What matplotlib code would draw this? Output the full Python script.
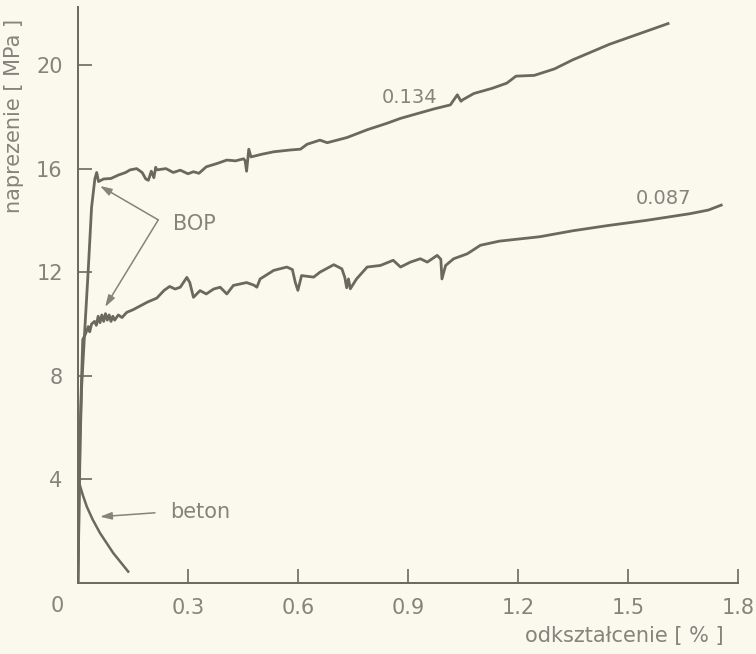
import matplotlib.pyplot as plt

# strain [%] / stress [MPa] readings for the two BOP specimens and plain concrete
bop134_strain = [0, 0.003, 0.006, 0.010, 0.019, 0.028, 0.037, 0.046, 0.051, 0.056,
                 0.070, 0.090, 0.110, 0.130, 0.142, 0.160, 0.175, 0.185, 0.192, 0.200,
                 0.207, 0.212, 0.215, 0.240, 0.260, 0.279, 0.300, 0.315, 0.330, 0.350,
                 0.380, 0.406, 0.430, 0.452, 0.456, 0.460, 0.466, 0.472, 0.500, 0.534,
                 0.580, 0.607, 0.625, 0.660, 0.680, 0.734, 0.789, 0.843, 0.880, 0.920,
                 0.970, 1.016, 1.035, 1.045, 1.050, 1.080, 1.130, 1.170, 1.195, 1.245,
                 1.300, 1.350, 1.450, 1.530, 1.610]
bop134_stress = [0, 3.0, 5.5, 7.6, 9.9, 12.1, 14.5, 15.6, 15.85, 15.5,
                 15.6, 15.62, 15.75, 15.85, 15.95, 16.0, 15.85, 15.6, 15.55, 15.9,
                 15.65, 16.05, 15.95, 16.0, 15.85, 15.94, 15.8, 15.88, 15.82, 16.07,
                 16.2, 16.33, 16.3, 16.38, 16.3, 15.9, 16.75, 16.45, 16.55, 16.65,
                 16.72, 16.75, 16.94, 17.1, 17.0, 17.2, 17.5, 17.75, 17.94, 18.1,
                 18.3, 18.46, 18.85, 18.6, 18.66, 18.9, 19.1, 19.3, 19.57, 19.6,
                 19.85, 20.2, 20.8, 21.2, 21.6]

bop087_strain = [0, 0.003, 0.006, 0.010, 0.013, 0.020, 0.028, 0.032, 0.037, 0.045,
                 0.050, 0.055, 0.060, 0.065, 0.070, 0.075, 0.080, 0.085, 0.090, 0.095,
                 0.100, 0.110, 0.120, 0.133, 0.150, 0.170, 0.190, 0.215, 0.235, 0.250,
                 0.265, 0.279, 0.297, 0.305, 0.315, 0.333, 0.350, 0.370, 0.388, 0.406,
                 0.424, 0.460, 0.480, 0.488, 0.497, 0.534, 0.570, 0.585, 0.593, 0.600,
                 0.610, 0.643, 0.660, 0.698, 0.720, 0.728, 0.733, 0.738, 0.743, 0.760,
                 0.789, 0.825, 0.860, 0.880, 0.907, 0.934, 0.953, 0.980, 0.990, 0.993,
                 1.003, 1.025, 1.062, 1.098, 1.150, 1.260, 1.350, 1.445, 1.550, 1.670,
                 1.720, 1.755]
bop087_stress = [0, 3.5, 6.0, 8.0, 9.4, 9.6, 9.9, 9.7, 10.0, 10.1,
                 9.95, 10.3, 10.05, 10.35, 10.1, 10.4, 10.15, 10.35, 10.1, 10.3,
                 10.15, 10.35, 10.25, 10.45, 10.55, 10.7, 10.85, 11.0, 11.3, 11.45,
                 11.35, 11.42, 11.8, 11.6, 11.03, 11.29, 11.16, 11.35, 11.42, 11.16,
                 11.49, 11.6, 11.5, 11.42, 11.74, 12.07, 12.2, 12.1, 11.6, 11.3,
                 11.87, 11.81, 12.0, 12.29, 12.13, 11.8, 11.4, 11.74, 11.36, 11.74,
                 12.2, 12.26, 12.46, 12.2, 12.39, 12.52, 12.39, 12.65, 12.5, 11.74,
                 12.26, 12.52, 12.71, 13.04, 13.2, 13.37, 13.6, 13.8, 14.0, 14.26,
                 14.4, 14.59]

beton_strain = [0.005, 0.013, 0.024, 0.040, 0.060, 0.096, 0.137]
beton_stress = [3.78, 3.4, 2.95, 2.45, 1.93, 1.16, 0.44]

x_ticks = [0.3, 0.6, 0.9, 1.2, 1.5, 1.8]
x_tick_labels = ['0.3', '0.6', '0.9', '1.2', '1.5', '1.8']
y_ticks = [4, 8, 12, 16, 20]
y_tick_labels = ['4', '8', '12', '16', '20']

PAPER = '#fbf9ee'
INK = '#6b695d'
TEXT = '#85837a'


def plot_stress_strain():
    fig = plt.figure(figsize=(7.56, 6.54), dpi=100, facecolor=PAPER)
    ax = fig.add_axes([78 / 756, 1 - 583 / 654, (737.7 - 78) / 756, (583 - 7) / 654])
    ax.set_facecolor(PAPER)

    ax.plot(bop134_strain, bop134_stress, color=INK, lw=2.0, solid_joinstyle='round')
    ax.plot(bop087_strain, bop087_stress, color=INK, lw=2.0, solid_joinstyle='round')
    ax.plot(beton_strain, beton_stress, color=INK, lw=1.8)

    ax.set_xlim(0, 1.8)
    ax.set_ylim(0, 22.24)

    for side in ['top', 'right']:
        ax.spines[side].set_visible(False)
    for side in ['left', 'bottom']:
        ax.spines[side].set_color(INK)
        ax.spines[side].set_linewidth(1.4)

    ax.set_xticks(x_ticks)
    ax.set_xticklabels(x_tick_labels)
    ax.set_yticks(y_ticks)
    ax.set_yticklabels(y_tick_labels)
    ax.tick_params(direction='in', length=10, width=1.2, color=INK,
                   labelsize=15, labelcolor=TEXT, pad=11)

    # shared origin label sits left of the axis corner
    ax.text(-0.057, -0.04, '0', transform=ax.get_xaxis_transform(),
            ha='center', va='center', fontsize=15, color=TEXT)

    fig.text(14 / 756, 1 - 116 / 654, 'naprezenie [ MPa ]', rotation=90,
             ha='center', va='center', fontsize=15, color=TEXT)
    fig.text(624 / 756, 1 - 636 / 654, 'odkształcenie [ % ]',
             ha='center', va='center', fontsize=15, color=TEXT)

    # curve labels (reinforcement ratio)
    ax.text(0.904, 18.75, '0.134', ha='center', va='center', fontsize=14, color=TEXT)
    ax.text(1.598, 14.85, '0.087', ha='center', va='center', fontsize=14, color=TEXT)

    arrow = dict(arrowstyle='-|>,head_length=0.7,head_width=0.22', color=TEXT,
                 lw=1.1, shrinkA=0, shrinkB=0)
    ax.annotate('', xy=(0.060, 15.33), xytext=(0.219, 14.02), arrowprops=arrow)
    ax.annotate('', xy=(0.074, 10.66), xytext=(0.219, 14.02), arrowprops=arrow)
    ax.text(0.259, 13.86, 'BOP', ha='left', va='center', fontsize=15, color=TEXT)

    ax.annotate('', xy=(0.060, 2.56), xytext=(0.210, 2.71), arrowprops=arrow)
    ax.text(0.251, 2.74, 'beton', ha='left', va='center', fontsize=15, color=TEXT)

    fig.savefig('out.png', dpi=100, facecolor=PAPER)


def main():
    plot_stress_strain()


if __name__ == "__main__":
    main()
